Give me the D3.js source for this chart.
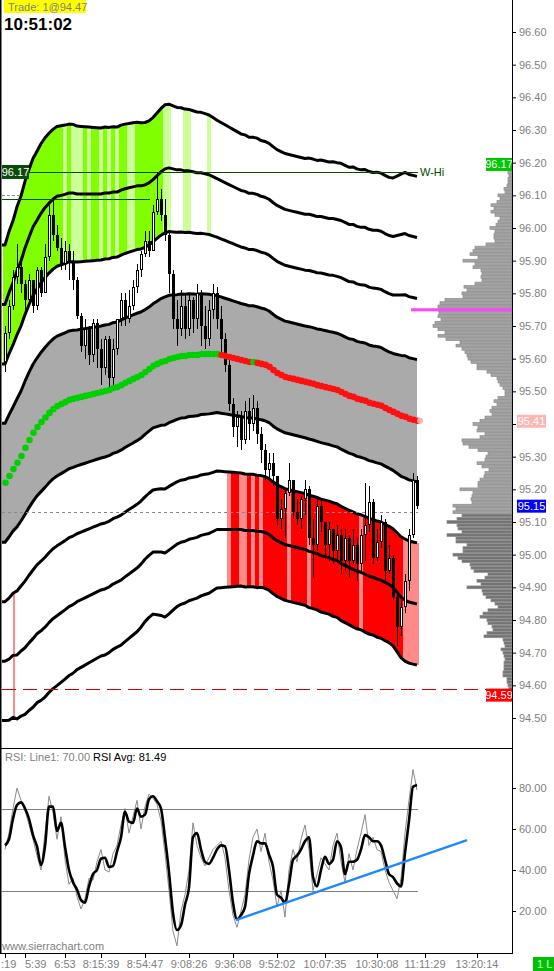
<!DOCTYPE html>
<html><head><meta charset="utf-8">
<script src="https://cdn.jsdelivr.net/npm/d3@7/dist/d3.min.js"></script>
<style>
html,body{margin:0;padding:0;background:#fff;overflow:hidden}
svg{display:block}
text{font-family:"Liberation Sans",Arial,sans-serif}
</style></head><body>
<svg id="c" width="554" height="971"></svg>
<script>
// ---------------- DATA ----------------
const firstOpen = 95.59;
const closes = [
95.68,95.76,95.85,95.88,95.83,95.78,95.84,95.76,95.87,95.80,
95.91,96.04,95.98,95.94,95.89,95.93,95.90,95.84,95.73,95.64,
95.69,95.61,95.71,95.63,95.57,95.66,95.54,95.63,95.72,95.78,
95.72,95.76,95.82,95.87,95.92,95.96,95.93,96.05,96.09,96.04,
95.98,95.86,95.72,95.69,95.76,95.69,95.78,95.72,95.80,95.70,
95.66,95.75,95.80,95.72,95.66,95.58,95.46,95.39,95.42,95.35,
95.44,95.40,95.45,95.37,95.32,95.26,95.28,95.24,95.11,95.14,
95.19,95.23,95.13,95.11,95.17,95.20,95.05,95.03,95.15,95.10,
95.03,95.08,95.01,95.06,94.98,95.05,94.98,95.03,94.97,95.06,
95.09,95.16,94.99,95.04,95.10,94.95,94.99,94.87,94.78,94.84,
94.92,95.06,95.23,95.15];
const highs = [
95.70,95.78,95.87,95.95,95.91,95.84,95.86,95.84,95.88,95.88,
95.95,96.07,96.09,96.01,95.97,95.96,95.95,95.93,95.85,95.74,
95.72,95.70,95.72,95.72,95.66,95.67,95.67,95.66,95.72,95.80,
95.80,95.81,95.84,95.89,95.93,95.99,95.99,96.07,96.17,96.12,
96.09,95.99,95.87,95.78,95.81,95.80,95.80,95.79,95.83,95.81,
95.76,95.78,95.83,95.82,95.76,95.68,95.60,95.48,95.44,95.44,
95.47,95.48,95.49,95.47,95.39,95.34,95.31,95.31,95.24,95.17,
95.20,95.28,95.23,95.17,95.18,95.23,95.21,95.11,95.17,95.17,
95.10,95.10,95.08,95.09,95.08,95.08,95.06,95.08,95.05,95.08,
95.22,95.21,95.17,95.08,95.12,95.11,95.03,95.00,94.88,94.86,
94.94,95.08,95.25,95.24];
const lows = [
95.56,95.66,95.75,95.83,95.80,95.75,95.76,95.74,95.75,95.79,
95.80,95.90,95.96,95.93,95.87,95.87,95.84,95.81,95.72,95.62,
95.60,95.58,95.59,95.57,95.52,95.55,95.50,95.52,95.61,95.70,
95.70,95.71,95.75,95.80,95.85,95.91,95.91,95.93,96.04,96.02,
95.96,95.80,95.69,95.64,95.67,95.66,95.67,95.68,95.69,95.64,
95.63,95.64,95.72,95.69,95.62,95.56,95.44,95.36,95.33,95.32,
95.34,95.35,95.38,95.34,95.28,95.23,95.23,95.21,95.09,95.08,
95.05,95.18,95.11,95.09,95.08,95.12,95.03,94.93,95.01,95.07,
95.00,94.98,94.97,94.98,94.94,94.95,94.93,94.97,94.92,94.95,
94.98,95.07,94.97,94.98,95.02,94.92,94.94,94.86,94.72,94.75,
94.82,94.89,95.05,95.14];
// band centre line and band width (one std-dev), in price
const midLine = [
95.220,95.241,95.262,95.281,95.302,95.327,95.351,95.373,95.391,95.406,
95.420,95.434,95.446,95.455,95.461,95.467,95.474,95.477,95.480,95.483,
95.486,95.489,95.492,95.495,95.498,95.501,95.504,95.510,95.513,95.519,
95.526,95.532,95.538,95.544,95.550,95.559,95.568,95.578,95.584,95.590,
95.593,95.599,95.602,95.605,95.608,95.608,95.611,95.611,95.611,95.614,
95.614,95.614,95.614,95.614,95.611,95.608,95.605,95.602,95.599,95.596,
95.593,95.590,95.590,95.587,95.584,95.581,95.575,95.565,95.556,95.550,
95.544,95.541,95.538,95.535,95.532,95.529,95.526,95.523,95.519,95.516,
95.513,95.510,95.507,95.504,95.498,95.492,95.486,95.483,95.477,95.474,
95.471,95.465,95.462,95.459,95.456,95.449,95.443,95.437,95.431,95.425,
95.422,95.416,95.413,95.410];
const stdDev = [
.182,.187,.190,.196,.199,.204,.207,.210,.211,.213,
.214,.214,.214,.214,.213,.212,.211,.210,.208,.207,
.206,.205,.204,.203,.202,.202,.201,.200,.199,.199,
.198,.197,.196,.195,.193,.191,.190,.190,.192,.194,
.196,.195,.193,.191,.190,.189,.188,.187,.186,.185,
.184,.183,.181,.179,.178,.177,.176,.175,.174,.173,
.173,.172,.172,.172,.171,.171,.171,.171,.171,.171,
.171,.171,.171,.171,.171,.171,.172,.172,.172,.173,
.173,.173,.174,.174,.175,.175,.175,.176,.176,.176,
.177,.177,.177,.178,.178,.178,.178,.179,.182,.185,
.187,.187,.187,.187];
// zone colouring per bar: G strong green, g light green, R red, r light red, l thin light red, . none
const upperZone = "GGGGGGGGGGGGGGG" + "gGgggGgGGgGgGgGGgg" + "GGGGGGG" + "gg" + "..." + "gg" + "...." + "g" + ".".repeat(52);
const lowerZone = "..l" + ".".repeat(53) + "rRRrrRrRr" + "RRRRRR" + "r" + "RRRR" + "r" + "RRRRRRRRRRRR" + "r" + "RRRRRRRRRR" + "rrrr";
const rsi = [
50,58,70,80,74,69,62,55,47,40,
58,76,68,55,66,45,33,36,27,21,
26,36,35,44,50,40,39,48,52,62,
70,58,66,74,60,71,77,75,72,64,
48,30,10,3,20,28,40,63,52,46,
42,46,50,52,54,46,30,18,12,20,
28,45,56,60,49,58,44,35,22,30,
17,40,50,44,55,62,50,30,38,46,
43,40,52,58,44,34,48,40,50,58,
67,52,56,50,49,40,34,30,26,36,
58,74,89,79];
const rsiAvg = [
52,55,65,71.7,73,70,65,57,51.5,42.5,
51.5,70.9,71,59,63,51.4,40,34,30.5,25.3,
24,32,38,40,45.5,46,41.5,42,49,56,
68.4,63.6,63,70,66,67,74.5,76,73.5,70,
55.6,39,19,10.7,13,23,31.5,56,58,50,
44,43,46,50,52,51.5,40,24,16,18,
22,38,47,54,53,53,47.5,41.6,28,26.5,
24,33,45,47,50,54,56,36.7,32,40,
46.5,43,45,54,51,38,44,44,45,50,
57,56,54,54,52,45,38,36.5,33.5,32,
48.3,64,80.6,81.49];
const timeTickBars = [0,5,15,24,35,46,57,68,80,93,105,118];
const timeTickLabels = [":19","5:39","6:53","8:15:39","8:54:47","9:08:26","9:36:08","9:52:02","10:07:35","10:30:08","11:11:29","13:20:14"];
const priceTicks = [94.50,94.60,94.70,94.80,94.90,95.00,95.10,95.20,95.30,95.40,95.50,95.60,95.70,95.80,95.90,96.00,96.10,96.20,96.30,96.40,96.50,96.60];
const rsiTicks = [20,40,60,80];
const rsiLevels = [70,30];
const trendLine = [{bar:57.75,v:15.6},{bar:115.5,v:54.6}];
const profileTop = 96.17;   // first level, then every 0.01 down
const profileVol = [
4,3,4,4,5,8,7,14,12,15,21,18,21,17,12,14,16,22,17,18,
18,17,26,37,39,42,34,49,37,39,31,30,31,30,37,48,45,50,49,67,
72,74,74,73,74,71,77,79,74,67,74,66,52,56,50,47,45,44,41,35,
35,25,21,15,14,12,9,7,7,14,18,15,20,22,20,27,32,39,34,35,
27,32,50,49,43,34,24,26,27,35,30,23,27,28,32,34,34,52,39,40,
41,40,59,56,59,50,55,65,55,54,50,65,56,56,45,49,49,59,54,50,
42,41,38,24,27,35,31,45,30,29,26,21,17,14,24,29,32,25,24,20,
19,25,28,9,8,7,11,9,8,7,8,8,8,9,9,5,5,4,3];
const levels = {wHi:96.17, yHi:96.09, dashTop:96.10, poc:95.75, openLine:95.13, wLo:94.59, last:95.15, mid:95.41};

// ---------------- DRAW ----------------
const svg = d3.select('#c');
const n = closes.length;
const x = d3.scaleLinear().domain([0, 103]).range([5, 417]);
const y = d3.scaleLinear().domain([94.50, 96.60]).range([718, 32]);
const yR = d3.scaleLinear().domain([20, 80]).range([911, 788]);
const vx = d3.scaleLinear().domain([0, 79]).range([512, 433]);

svg.append('rect').attr('width',554).attr('height',971).attr('fill','#fff');
const defs = svg.append('defs');
defs.append('clipPath').attr('id','cm').append('rect').attr('x',2).attr('y',0).attr('width',510).attr('height',748);
defs.append('clipPath').attr('id','cr').append('rect').attr('x',2).attr('y',750).attr('width',510).attr('height',203);

const main = svg.append('g').attr('clip-path','url(#cm)');
const bv = (i,k) => midLine[i] + k*stdDev[i];
function bandAt(t,k){
  const tc = Math.max(0, Math.min(n-1, t));
  const i0 = Math.floor(tc), i1 = Math.min(n-1, i0+1), f = tc - i0;
  return bv(i0,k)*(1-f) + bv(i1,k)*f;
}
const ext = [-0.75].concat(d3.range(n));
// grey inner band
main.append('path').datum(ext)
  .attr('d', d3.area().x(t=>x(t)).y0(t=>y(bandAt(t,-1))).y1(t=>y(bandAt(t,1))))
  .attr('fill','#aaaaaa');
// zone fills
const zoneCol = {G:'#80ff00', g:'#ccff99', R:'#ff0000', r:'#ff8a8a', l:'#ff8a8a'};
function zonePoly(i, kTop, kBot){
  const ts = [i-0.5, i, i+0.5];
  const top = ts.map(t=>[x(t), y(bandAt(t,kTop))]);
  const bot = ts.slice().reverse().map(t=>[x(t), y(bandAt(t,kBot))]);
  return 'M' + top.concat(bot).map(p=>p.join(',')).join('L') + 'Z';
}
d3.range(n).forEach(i=>{
  const u = upperZone[i];
  if (u !== '.') main.append('path').attr('d', zonePoly(i,4,2)).attr('fill', zoneCol[u]);
  const l = lowerZone[i];
  if (l === 'l') {
    main.append('rect').attr('x', x(i)).attr('width',2)
      .attr('y', y(bv(i,-2))).attr('height', y(bv(i,-4)) - y(bv(i,-2))).attr('fill', zoneCol.l);
  } else if (l !== '.') main.append('path').attr('d', zonePoly(i,-2,-4)).attr('fill', zoneCol[l]);
});
// band lines
[4,3,2,1,-1,-2,-3,-4].forEach(k=>{
  main.append('path').datum(ext)
    .attr('d', d3.line().x(t=>x(t)).y(t=>y(bandAt(t,k))))
    .attr('fill','none').attr('stroke','#000').attr('stroke-width',3).attr('stroke-linejoin','round');
});
// horizontal levels
const hy = p => Math.round(y(p))+0.5;
main.append('line').attr('x1',29).attr('x2',418).attr('y1',hy(levels.wHi)).attr('y2',hy(levels.wHi)).attr('stroke','#005000');
main.append('line').attr('x1',2).attr('x2',150).attr('y1',hy(levels.yHi)).attr('y2',hy(levels.yHi)).attr('stroke','#005000');
main.append('line').attr('x1',2).attr('x2',19).attr('y1',hy(levels.dashTop)).attr('y2',hy(levels.dashTop)).attr('stroke','#888').attr('stroke-dasharray','3,2');
main.append('line').attr('x1',2).attr('x2',418).attr('y1',hy(levels.openLine)).attr('y2',hy(levels.openLine)).attr('stroke','#888').attr('stroke-dasharray','3,3');
main.append('line').attr('x1',2).attr('x2',486).attr('y1',hy(levels.wLo)).attr('y2',hy(levels.wLo)).attr('stroke','#d40000').attr('stroke-dasharray','14,7');

// candles
const cg = main.append('g').attr('shape-rendering','crispEdges');
d3.range(n).forEach(i=>{
  const o = i ? closes[i-1] : firstOpen, c = closes[i];
  const h = Math.max(highs[i], o, c), l = Math.min(lows[i], o, c);
  const cx = Math.round(x(i));
  cg.append('rect').attr('x',cx).attr('width',1).attr('y',Math.round(y(h))).attr('height',Math.max(1,Math.round(y(l))-Math.round(y(h)))).attr('fill','#000');
  const t = Math.round(y(Math.max(o,c))), b = Math.round(y(Math.min(o,c)));
  const bh = Math.max(1, b - t);
  cg.append('rect').attr('x',cx-1).attr('width',3).attr('y',t).attr('height',bh).attr('fill','#000');
  if (c > o && bh > 2) cg.append('rect').attr('x',cx).attr('width',1).attr('y',t+1).attr('height',bh-2).attr('fill','#fff');
});
// centre line dots
d3.range(n).forEach(i=>{
  const up = i===0 || midLine[i] >= midLine[i-1];
  main.append('circle').attr('cx',x(i)+0.5).attr('cy',y(midLine[i])).attr('r',3.3)
    .attr('fill', up ? '#00d000' : '#ff1010');
});
main.append('circle').attr('cx',x(n-1)+3).attr('cy',y(midLine[n-1])).attr('r',3).attr('fill','#ffb0b0');

// volume profile
const pg = svg.append('g');
profileVol.forEach((v,j)=>{
  const p = +(profileTop - j*0.01).toFixed(2);
  const yc = y(p);
  pg.append('rect').attr('x',vx(v)).attr('y',yc-1.4).attr('width',512-vx(v)).attr('height',2.8)
    .attr('fill', p <= 95.12 ? '#747474' : '#a4a4a4').attr('stroke','#8c8c8c').attr('stroke-width',0.7);
});
// magenta level
svg.append('line').attr('x1',411).attr('x2',512).attr('y1',y(levels.poc)).attr('y2',y(levels.poc)).attr('stroke','#ff44ff').attr('stroke-width',3);

// W-Hi label
svg.append('text').attr('x',420).attr('y',y(levels.wHi)+4).attr('font-size',11).attr('fill','#004800').text('W-Hi');

// right axis (the 95.40 label sits under the 95.41 value box, as in the original)
const ax = svg.append('g').attr('transform','translate(512,0)')
  .call(d3.axisRight(y).tickValues(priceTicks).tickSize(4).tickPadding(3)
    .tickFormat(d => Math.abs(d - levels.mid) < 0.03 ? '' : d3.format('.2f')(d)));
ax.select('.domain').remove();
ax.selectAll('line').attr('stroke','#000');
ax.selectAll('text').attr('fill','#808080').attr('font-size',11).attr('font-family','"Liberation Sans",Arial,sans-serif');

// value boxes
function box(xl, yt, w, h, bg, fg, txt){
  svg.append('rect').attr('x',xl).attr('y',yt).attr('width',w).attr('height',h).attr('fill',bg);
  svg.append('text').attr('x',xl+w/2).attr('y',yt+h-2.5).attr('text-anchor','middle').attr('font-size',11).attr('fill',fg).text(txt);
}
box(2, y(levels.wHi)-7.5, 27, 14, '#0c4a0c', '#fff', levels.wHi.toFixed(2));
box(486, y(levels.wHi)-14.5, 26, 13, '#00c800', '#fff', levels.wHi.toFixed(2));
box(517, y(levels.mid)-6, 29, 13, '#ffb4b4', '#fff', levels.mid.toFixed(2));
box(517, y(levels.last)-6, 29, 13, '#0000ff', '#fff', levels.last.toFixed(2));
box(486, y(levels.wLo), 26, 13, '#ff0000', '#fff', levels.wLo.toFixed(2));

// header
svg.append('rect').attr('x',4).attr('y',0).attr('width',82).attr('height',13).attr('fill','#ffff00');
svg.append('text').attr('x',8).attr('y',11).attr('font-size',11).attr('fill','#808080').text('Trade: 1@94.47');
svg.append('text').attr('x',4).attr('y',30).attr('font-size',17).attr('font-weight','bold').attr('fill','#000').text('10:51:02');

// ---- RSI panel ----
const rg = svg.append('g').attr('clip-path','url(#cr)');
rsiLevels.forEach(v=>{
  rg.append('line').attr('x1',2).attr('x2',418).attr('y1',Math.round(yR(v))+0.5).attr('y2',Math.round(yR(v))+0.5).attr('stroke','#808080');
});
rg.append('path').datum(rsi).attr('d', d3.line().x((d,i)=>x(i)).y(d=>yR(d)))
  .attr('fill','none').attr('stroke','#8a8a8a').attr('stroke-width',1);
rg.append('path').datum(rsiAvg).attr('d', d3.line().x((d,i)=>x(i)).y(d=>yR(d)).curve(d3.curveMonotoneX))
  .attr('fill','none').attr('stroke','#000').attr('stroke-width',2.6).attr('stroke-linejoin','round');
rg.append('line').attr('x1',x(trendLine[0].bar)).attr('y1',yR(trendLine[0].v)).attr('x2',x(trendLine[1].bar)).attr('y2',yR(trendLine[1].v))
  .attr('stroke','#1e88ff').attr('stroke-width',2.4);
const hdr = svg.append('text').attr('x',5).attr('y',761).attr('font-size',11);
hdr.append('tspan').attr('fill','#808080').text('RSI:  Line1: 70.00  ');
hdr.append('tspan').attr('fill','#000').text('RSI Avg: ' + rsiAvg[n-1].toFixed(2));
const rax = svg.append('g').attr('transform','translate(512,0)')
  .call(d3.axisRight(yR).tickValues(rsiTicks).tickSize(4).tickPadding(3).tickFormat(d3.format('.2f')));
rax.select('.domain').remove();
rax.selectAll('line').attr('stroke','#000');
rax.selectAll('text').attr('fill','#808080').attr('font-size',11).attr('font-family','"Liberation Sans",Arial,sans-serif');
svg.append('text').attr('x',2).attr('y',950).attr('font-size',11).attr('fill','#808080').text('www.sierrachart.com');

// frame
svg.append('rect').attr('x',0).attr('y',0).attr('width',1.5).attr('height',953).attr('fill','#000');
svg.append('rect').attr('x',512).attr('y',0).attr('width',1).attr('height',954).attr('fill','#000');
svg.append('rect').attr('x',0).attr('y',748).attr('width',513).attr('height',1).attr('fill','#000');
svg.append('rect').attr('x',0).attr('y',953).attr('width',513).attr('height',1).attr('fill','#000');

// time axis: labels centred on ticks, pushed right only when they would collide
let prevEnd = -100;
timeTickBars.forEach((b,k)=>{
  const cx = Math.round(x(b));
  svg.append('rect').attr('x',cx).attr('y',954).attr('width',1).attr('height',4).attr('fill','#000');
  const t = svg.append('text').attr('y',968).attr('font-size',11).attr('fill','#808080').text(timeTickLabels[k]);
  const w = t.node().getComputedTextLength();
  let sx = k === 1 ? cx : Math.max(1, cx - w/2, prevEnd + 2);
  t.attr('x', sx);
  prevEnd = sx + w;
});
// bottom-right marker
svg.append('rect').attr('x',533).attr('y',957).attr('width',21).attr('height',14).attr('fill','#00c000');
svg.append('text').attr('x',537).attr('y',968).attr('font-size',11).attr('fill','#d8ffd8').text('1 L');
</script>
</body></html>
